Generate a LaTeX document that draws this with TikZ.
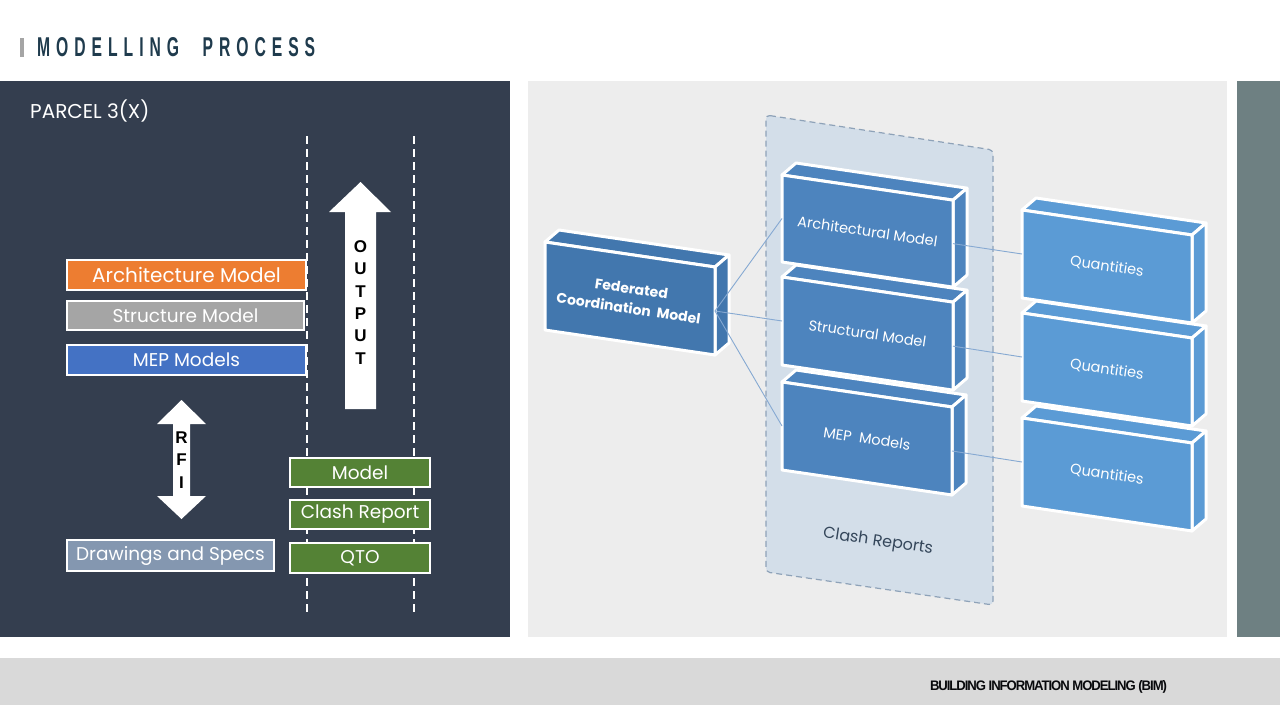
\documentclass[tikz,border=0pt]{standalone}
\usepackage{fontspec}
\setmainfont{Liberation Sans}
\newfontfamily\gothic{Poppins}
\newfontfamily\titlefont{Liberation Sans}[LetterSpace=38]
\newfontfamily\footfont{Liberation Sans}[LetterSpace=-8]
\usetikzlibrary{calc}
\definecolor{darkpanel}{HTML}{343E4F}
\definecolor{midpanel}{HTML}{EDEDED}
\definecolor{sidepanel}{HTML}{6E8082}
\definecolor{footbar}{HTML}{D9D9D9}
\definecolor{titlecol}{HTML}{1F3B4D}
\definecolor{archorange}{HTML}{ED7D31}
\definecolor{structgrey}{HTML}{A5A5A5}
\definecolor{mepblue}{HTML}{4472C4}
\definecolor{drawblue}{HTML}{8497B0}
\definecolor{outgreen}{HTML}{548235}
\definecolor{regionfill}{HTML}{D3DEE9}
\definecolor{regionline}{HTML}{8EA2B8}
\definecolor{fedblue}{HTML}{4277AE}
\definecolor{modelblue}{HTML}{4D84BE}
\definecolor{qtyblue}{HTML}{5B9BD5}
\definecolor{linkblue}{HTML}{86A9D2}
\definecolor{clashtext}{HTML}{34465A}
\tikzset{
  leftbox/.style={draw=white, line width=2, text=white, inner sep=0,
    font=\gothic\fontsize{18.5}{18.5}\selectfont},
  lanedash/.style={white, line width=1.8, dash pattern=on 8 off 5},
  bigarrow/.style={fill=white, draw=none},
  arrowletters/.style={font=\bfseries\fontsize{17}{22.3}\selectfont, align=center, text=black},
  slabline/.style={draw=white, line width=3, line join=round},
  slabtext/.style={text=white, rotate=-8.4, align=center, font=\gothic\fontsize{14.5}{17}\selectfont},
  linkline/.style={linkblue, line width=0.9}
}
\newcommand\slab[8]{%
  \coordinate (#1-a) at (#2,#3);
  \coordinate (#1-b) at ({#2+#4},{#3+0.147*#4});
  \coordinate (#1-c) at ({#2+#4},{#3+0.147*#4+#5});
  \coordinate (#1-d) at (#2,{#3+#5});
  \filldraw[slabline,fill=#6] (#1-a) -- (#1-b) -- ++(14,-12) -- ($(#1-a)+(14,-12)$) -- cycle;
  \filldraw[slabline,fill=#6] (#1-b) -- ++(14,-12) -- ($(#1-c)+(14,-12)$) -- (#1-c) -- cycle;
  \filldraw[slabline,fill=#6] (#1-a) -- (#1-b) -- (#1-c) -- (#1-d) -- cycle;
  \coordinate (#1-w) at ($(#1-a)!0.5!(#1-d)$);
  \coordinate (#1-e) at ($(#1-b)!0.5!(#1-c)$);
  \node[slabtext,#7] (#1) at ($(#1-a)!0.5!(#1-c)$) {#8};
}
\begin{document}
\begin{tikzpicture}[x=1pt,y=-1pt]
\useasboundingbox (0,0) rectangle (1280,720);
\fill[white] (0,0) rectangle (1280,720);
% title
\fill[structgrey] (20,38) rectangle (24,57);
\node[anchor=north west, inner sep=0, text=titlecol] (title) at (37,37)
  {\resizebox{278pt}{19pt}{\titlefont\bfseries MODELLING\kern1.5em PROCESS}};
% panels
\fill[darkpanel] (0,81) rectangle (510,637);
\fill[midpanel] (528,81) rectangle (1227,637);
\fill[sidepanel] (1237,81) rectangle (1280,637);
\fill[footbar] (0,658) rectangle (1280,705);
\node[inner sep=0, text=black!85!darkpanel] (footer) at (1048.5,687)
  {\resizebox{237pt}{10pt}{\footfont\bfseries BUILDING INFORMATION MODELING (BIM)}};
% left panel
\node[anchor=west, inner sep=0, text=white, font=\gothic\fontsize{20}{20}\selectfont] (parcel) at (30,111) {PARCEL 3(X)};
\coordinate (laneAtop) at (307,136);
\coordinate (laneAbot) at (307,613);
\coordinate (laneBtop) at (414,136);
\coordinate (laneBbot) at (414,613);
\draw[lanedash] (laneAtop) -- (laneAbot);
\draw[lanedash] (laneBtop) -- (laneBbot);
\node[leftbox, fill=archorange, minimum width=239, minimum height=30, font=\gothic\fontsize{20}{20}\selectfont] (archbox) at (186.5,275) {Architecture Model};
\node[leftbox, fill=structgrey, minimum width=237, minimum height=29] (structbox) at (185.5,315.5) {Structure Model};
\node[leftbox, fill=mepblue, minimum width=239, minimum height=30] (mepbox) at (186.5,360) {MEP Models};
\node[leftbox, fill=drawblue, minimum width=207, minimum height=31] (drawbox) at (170.5,555.5) {Drawings and Specs};
\node[leftbox, fill=outgreen, minimum width=140, minimum height=29] (modelbox) at (360,472.5) {Model};
\node[leftbox, fill=outgreen, minimum width=140, minimum height=29] (clashbox) at (360,514.5) {Clash Report};
\node[leftbox, fill=outgreen, minimum width=140, minimum height=30] (qtobox) at (360,558) {QTO};
% OUTPUT arrow
\fill[bigarrow] (345,409) -- (345,212) -- (329,212) -- (360.5,182) -- (391,212) -- (376,212) -- (376,409) -- cycle;
\node[arrowletters] (output) at (360.5,302.5) {O\\U\\T\\P\\U\\T};
% RFI arrow
\fill[bigarrow] (173,424) -- (157,424) -- (181.5,400) -- (206,424) -- (190,424) -- (190,496) -- (206,496) -- (181.5,519) -- (157,496) -- (173,496) -- cycle;
\node[arrowletters] (rfi) at (181.5,460) {R\\F\\I};
% right panel region
\filldraw[fill=regionfill, draw=regionline, line width=1.2, dash pattern=on 6 off 4, rounded corners=4]
  (766,115) -- (993,150) -- (993,605) -- (766,572) -- cycle;
\node[text=clashtext, rotate=-8.4, font=\gothic\fontsize{16}{16}\selectfont] (clashreports) at (878,542) {Clash Reports};
% slabs
\slab{fed}{545}{242}{170}{88}{fedblue}{font=\gothic\bfseries\fontsize{14}{20}\selectfont}{Federated\\Coordination \ Model}
\slab{arch}{782}{175}{171}{87}{modelblue}{}{Architectural Model}
\slab{struct}{782}{277}{171}{88}{modelblue}{}{Structural Model}
\slab{mep}{782}{382}{170}{88}{modelblue}{}{MEP \ Models}
\slab{qa}{1022}{210}{170}{88}{qtyblue}{}{Quantities}
\slab{qb}{1022}{313}{170}{88}{qtyblue}{}{Quantities}
\slab{qc}{1022}{418}{170}{88}{qtyblue}{}{Quantities}
% connectors
\draw[linkline] (fed-e) -- (arch-w);
\draw[linkline] (fed-e) -- (struct-w);
\draw[linkline] (fed-e) -- (mep-w);
\draw[linkline] (arch-e) -- (qa-w);
\draw[linkline] (struct-e) -- (qb-w);
\draw[linkline] (mep-e) -- (qc-w);
\end{tikzpicture}
\end{document}
